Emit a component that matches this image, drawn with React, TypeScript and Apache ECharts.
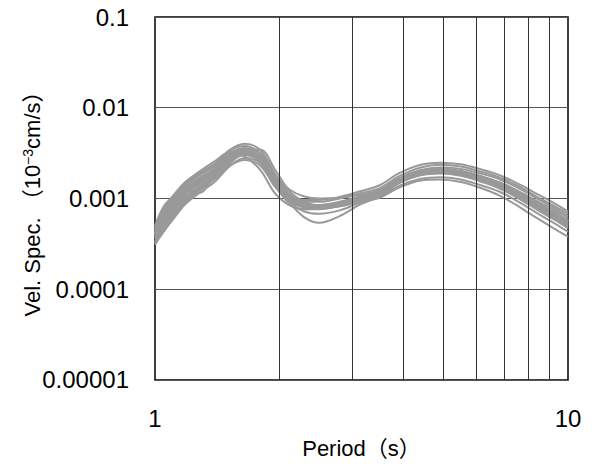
import React, { useEffect, useRef } from "react";
import * as echarts from "echarts";

// Period (s)
const periods = [1.0, 1.05, 1.1, 1.18, 1.28, 1.4, 1.52, 1.65, 1.8, 1.95, 2.12, 2.3, 2.5, 2.8, 3.14, 3.5, 3.9, 4.4, 4.9, 5.5, 6.1, 6.85, 7.65, 8.55, 9.3, 10];

// Velocity spectra (10^-3 cm/s), one array per record
const rec01 = [0.48e-3, 0.80e-3, 1.00e-3, 1.45e-3, 1.90e-3, 2.45e-3, 3.40e-3, 3.80e-3, 3.10e-3, 1.70e-3, 1.05e-3, 0.86e-3, 0.80e-3, 0.84e-3, 0.94e-3, 1.05e-3, 1.38e-3, 1.65e-3, 1.72e-3, 1.62e-3, 1.42e-3, 1.18e-3, 0.90e-3, 0.66e-3, 0.53e-3, 0.43e-3];
const rec02 = [0.31e-3, 0.44e-3, 0.57e-3, 0.85e-3, 1.15e-3, 1.55e-3, 2.30e-3, 2.80e-3, 2.45e-3, 1.45e-3, 1.02e-3, 0.92e-3, 0.92e-3, 1.00e-3, 1.14e-3, 1.30e-3, 1.76e-3, 2.20e-3, 2.35e-3, 2.25e-3, 2.00e-3, 1.70e-3, 1.34e-3, 1.00e-3, 0.82e-3, 0.68e-3];
const rec03 = [0.40e-3, 0.55e-3, 0.74e-3, 1.12e-3, 1.50e-3, 1.95e-3, 2.75e-3, 3.15e-3, 2.75e-3, 1.60e-3, 0.90e-3, 0.62e-3, 0.54e-3, 0.64e-3, 0.86e-3, 1.06e-3, 1.48e-3, 1.84e-3, 1.95e-3, 1.85e-3, 1.64e-3, 1.36e-3, 1.05e-3, 0.78e-3, 0.63e-3, 0.51e-3];
const rec04 = [0.34e-3, 0.46e-3, 0.60e-3, 0.90e-3, 1.25e-3, 1.70e-3, 2.45e-3, 3.40e-3, 3.45e-3, 2.10e-3, 1.20e-3, 0.92e-3, 0.84e-3, 0.88e-3, 1.00e-3, 1.16e-3, 1.58e-3, 1.95e-3, 2.08e-3, 1.98e-3, 1.76e-3, 1.48e-3, 1.16e-3, 0.86e-3, 0.70e-3, 0.57e-3];
const rec05 = [0.50e-3, 0.82e-3, 1.04e-3, 1.50e-3, 1.98e-3, 2.60e-3, 3.25e-3, 2.90e-3, 2.05e-3, 1.15e-3, 0.84e-3, 0.76e-3, 0.78e-3, 0.86e-3, 1.00e-3, 1.16e-3, 1.55e-3, 1.90e-3, 2.00e-3, 1.90e-3, 1.68e-3, 1.40e-3, 1.08e-3, 0.80e-3, 0.64e-3, 0.52e-3];
const rec06 = [0.42e-3, 0.62e-3, 0.86e-3, 1.30e-3, 1.15e-3, 1.85e-3, 2.60e-3, 3.30e-3, 2.90e-3, 1.65e-3, 1.00e-3, 0.84e-3, 0.80e-3, 0.86e-3, 0.98e-3, 1.12e-3, 1.50e-3, 1.82e-3, 1.92e-3, 1.82e-3, 1.60e-3, 1.33e-3, 1.02e-3, 0.75e-3, 0.60e-3, 0.49e-3];
const rec07 = [0.40e-3, 0.60e-3, 0.82e-3, 1.22e-3, 1.62e-3, 2.10e-3, 2.95e-3, 3.30e-3, 2.80e-3, 1.62e-3, 1.08e-3, 0.96e-3, 0.96e-3, 1.04e-3, 1.20e-3, 1.40e-3, 1.90e-3, 2.35e-3, 2.48e-3, 2.38e-3, 2.12e-3, 1.80e-3, 1.42e-3, 1.08e-3, 0.88e-3, 0.72e-3];
const rec08 = [0.36e-3, 0.50e-3, 0.66e-3, 1.00e-3, 1.36e-3, 1.82e-3, 2.60e-3, 3.05e-3, 2.60e-3, 1.48e-3, 0.95e-3, 0.80e-3, 0.78e-3, 0.82e-3, 0.92e-3, 1.02e-3, 1.32e-3, 1.58e-3, 1.62e-3, 1.52e-3, 1.32e-3, 1.07e-3, 0.80e-3, 0.58e-3, 0.46e-3, 0.38e-3];
const rec09 = [0.44e-3, 0.70e-3, 0.92e-3, 1.36e-3, 1.78e-3, 2.28e-3, 3.15e-3, 3.60e-3, 3.15e-3, 1.80e-3, 1.10e-3, 0.90e-3, 0.84e-3, 0.88e-3, 1.00e-3, 1.15e-3, 1.58e-3, 1.96e-3, 2.08e-3, 1.98e-3, 1.75e-3, 1.46e-3, 1.14e-3, 0.84e-3, 0.68e-3, 0.56e-3];
const rec10 = [0.33e-3, 0.45e-3, 0.62e-3, 0.95e-3, 1.32e-3, 1.80e-3, 2.60e-3, 3.00e-3, 2.50e-3, 1.38e-3, 0.88e-3, 0.76e-3, 0.76e-3, 0.84e-3, 0.98e-3, 1.14e-3, 1.56e-3, 1.92e-3, 2.04e-3, 1.96e-3, 1.76e-3, 1.50e-3, 1.18e-3, 0.90e-3, 0.74e-3, 0.61e-3];
const rec11 = [0.42e-3, 0.66e-3, 0.90e-3, 1.36e-3, 1.82e-3, 2.40e-3, 3.45e-3, 4.00e-3, 3.40e-3, 1.90e-3, 1.12e-3, 0.90e-3, 0.84e-3, 0.90e-3, 1.04e-3, 1.20e-3, 1.62e-3, 1.98e-3, 2.10e-3, 2.00e-3, 1.78e-3, 1.48e-3, 1.15e-3, 0.85e-3, 0.69e-3, 0.56e-3];
const rec12 = [0.37e-3, 0.50e-3, 0.66e-3, 0.98e-3, 1.30e-3, 1.68e-3, 2.30e-3, 2.65e-3, 2.30e-3, 1.36e-3, 0.92e-3, 0.80e-3, 0.79e-3, 0.86e-3, 0.99e-3, 1.13e-3, 1.52e-3, 1.84e-3, 1.94e-3, 1.85e-3, 1.64e-3, 1.37e-3, 1.06e-3, 0.79e-3, 0.64e-3, 0.52e-3];
const rec13 = [0.41e-3, 0.58e-3, 0.78e-3, 1.18e-3, 1.58e-3, 2.04e-3, 2.88e-3, 3.25e-3, 2.70e-3, 1.52e-3, 0.98e-3, 0.85e-3, 0.84e-3, 0.90e-3, 1.03e-3, 1.18e-3, 1.60e-3, 1.96e-3, 2.06e-3, 1.96e-3, 1.74e-3, 1.45e-3, 1.13e-3, 0.83e-3, 0.67e-3, 0.55e-3];
const rec14 = [0.39e-3, 0.56e-3, 0.77e-3, 1.16e-3, 1.52e-3, 1.96e-3, 2.78e-3, 3.12e-3, 2.66e-3, 1.52e-3, 0.90e-3, 0.72e-3, 0.68e-3, 0.74e-3, 0.90e-3, 1.08e-3, 1.54e-3, 1.90e-3, 2.02e-3, 1.93e-3, 1.72e-3, 1.44e-3, 1.12e-3, 0.83e-3, 0.67e-3, 0.55e-3];
const rec15 = [0.46e-3, 0.74e-3, 0.96e-3, 1.40e-3, 1.84e-3, 2.35e-3, 3.20e-3, 3.50e-3, 2.92e-3, 1.64e-3, 1.02e-3, 0.86e-3, 0.83e-3, 0.88e-3, 1.00e-3, 1.13e-3, 1.50e-3, 1.80e-3, 1.88e-3, 1.78e-3, 1.55e-3, 1.28e-3, 0.98e-3, 0.72e-3, 0.58e-3, 0.47e-3];
const rec16 = [0.32e-3, 0.43e-3, 0.58e-3, 0.88e-3, 1.22e-3, 1.66e-3, 2.45e-3, 3.10e-3, 2.80e-3, 1.72e-3, 1.08e-3, 0.88e-3, 0.82e-3, 0.88e-3, 1.02e-3, 1.20e-3, 1.66e-3, 2.06e-3, 2.20e-3, 2.12e-3, 1.90e-3, 1.62e-3, 1.28e-3, 0.96e-3, 0.78e-3, 0.64e-3];
const rec17 = [0.43e-3, 0.64e-3, 0.86e-3, 1.28e-3, 1.68e-3, 2.15e-3, 3.00e-3, 3.38e-3, 2.84e-3, 1.58e-3, 1.00e-3, 0.86e-3, 0.85e-3, 0.92e-3, 1.06e-3, 1.22e-3, 1.65e-3, 2.00e-3, 2.10e-3, 1.98e-3, 1.74e-3, 1.44e-3, 1.10e-3, 0.80e-3, 0.64e-3, 0.51e-3];
const rec18 = [0.38e-3, 0.52e-3, 0.70e-3, 1.06e-3, 1.44e-3, 1.90e-3, 2.70e-3, 3.18e-3, 2.72e-3, 1.55e-3, 0.96e-3, 0.80e-3, 0.77e-3, 0.82e-3, 0.95e-3, 1.10e-3, 1.50e-3, 1.86e-3, 1.96e-3, 1.88e-3, 1.68e-3, 1.42e-3, 1.12e-3, 0.84e-3, 0.69e-3, 0.57e-3];
const rec19 = [0.41e-3, 0.60e-3, 0.84e-3, 1.26e-3, 1.66e-3, 2.16e-3, 3.02e-3, 3.35e-3, 2.90e-3, 1.80e-3, 1.25e-3, 1.05e-3, 1.00e-3, 1.02e-3, 1.10e-3, 1.24e-3, 1.66e-3, 2.02e-3, 2.12e-3, 2.02e-3, 1.78e-3, 1.48e-3, 1.15e-3, 0.85e-3, 0.69e-3, 0.56e-3];

const records = [rec01, rec02, rec03, rec04, rec05, rec06, rec07, rec08, rec09, rec10, rec11, rec12, rec13, rec14, rec15, rec16, rec17, rec18, rec19];

// Axis tick labels
const yTickValues = [0.00001, 0.0001, 0.001, 0.01, 0.1];
const yTickLabels = ["0.00001", "0.0001", "0.001", "0.01", "0.1"];
const xTickValues = [1, 10];
const xTickLabels = ["1", "10"];
const xGridValues = [2, 3, 4, 5, 6, 7, 8, 9];

const FONT = '"Liberation Sans", Arial, "Noto Sans CJK JP", sans-serif';

function labelFor(values: number[], labels: string[], v: number): string {
  for (let i = 0; i < values.length; i++) {
    if (Math.abs(Math.log10(v) - Math.log10(values[i])) < 1e-6) return labels[i];
  }
  return "";
}

export default function App() {
  const ref = useRef<HTMLDivElement>(null);

  useEffect(() => {
    document.body.style.margin = "0";
    if (!ref.current) return;
    const chart = echarts.init(ref.current, undefined, { renderer: "svg" });

    const curveSeries = records.map((rec, i) => ({
      name: "rec" + (i + 1),
      type: "line",
      data: periods.map((p, j) => [p, rec[j]]),
      showSymbol: false,
      symbol: "none",
      smooth: 0.35,
      z: 3,
      lineStyle: { color: "#999999", width: 2 },
      silent: true,
    }));

    chart.setOption({
      animation: false,
      backgroundColor: "#ffffff",
      grid: {
        left: 155,
        right: 26,
        top: 17,
        bottom: 83,
        show: true,
        borderColor: "#000",
        borderWidth: 1.5,
        backgroundColor: "transparent",
      },
      xAxis: {
        type: "log",
        logBase: 10,
        min: 1,
        max: 10,
        name: "Period（s）",
        nameLocation: "middle",
        nameGap: 57,
        nameMoveOverlap: false,
        nameTextStyle: { fontSize: 22, color: "#000", fontFamily: FONT },
        axisLine: { show: false },
        axisTick: { show: false },
        splitLine: { show: false },
        axisLabel: {
          show: true,
          margin: 27,
          fontSize: 24,
          color: "#000",
          fontFamily: FONT,
          showMinLabel: true,
          showMaxLabel: true,
          formatter: (v: number) => labelFor(xTickValues, xTickLabels, v),
        },
      },
      yAxis: {
        type: "log",
        logBase: 10,
        min: 0.00001,
        max: 0.1,
        name: "Vel. Spec. （10{sup|−3}cm/s）",
        nameLocation: "middle",
        nameGap: 112,
        nameMoveOverlap: false,
        nameTextStyle: {
          fontSize: 22,
          color: "#000",
          fontFamily: FONT,
          rich: {
            sup: { fontSize: 14, verticalAlign: "top", color: "#000", fontFamily: FONT },
          },
        },
        axisLine: { show: false },
        axisTick: { show: false },
        splitLine: { show: true, lineStyle: { color: "#555", width: 1.2 } },
        axisLabel: {
          show: true,
          margin: 26,
          fontSize: 24,
          color: "#000",
          fontFamily: FONT,
          showMinLabel: true,
          showMaxLabel: true,
          formatter: (v: number) => labelFor(yTickValues, yTickLabels, v),
        },
      },
      series: [
        {
          name: "grid",
          type: "line",
          data: [],
          z: 1,
          silent: true,
          markLine: {
            silent: true,
            symbol: ["none", "none"],
            label: { show: false },
            lineStyle: { color: "#333", width: 1, type: "solid" },
            data: xGridValues.map((v) => ({ xAxis: v })),
          },
        },
        ...curveSeries,
      ],
    });

    return () => chart.dispose();
  }, []);

  return <div ref={ref} style={{ width: 594, height: 464 }} />;
}
